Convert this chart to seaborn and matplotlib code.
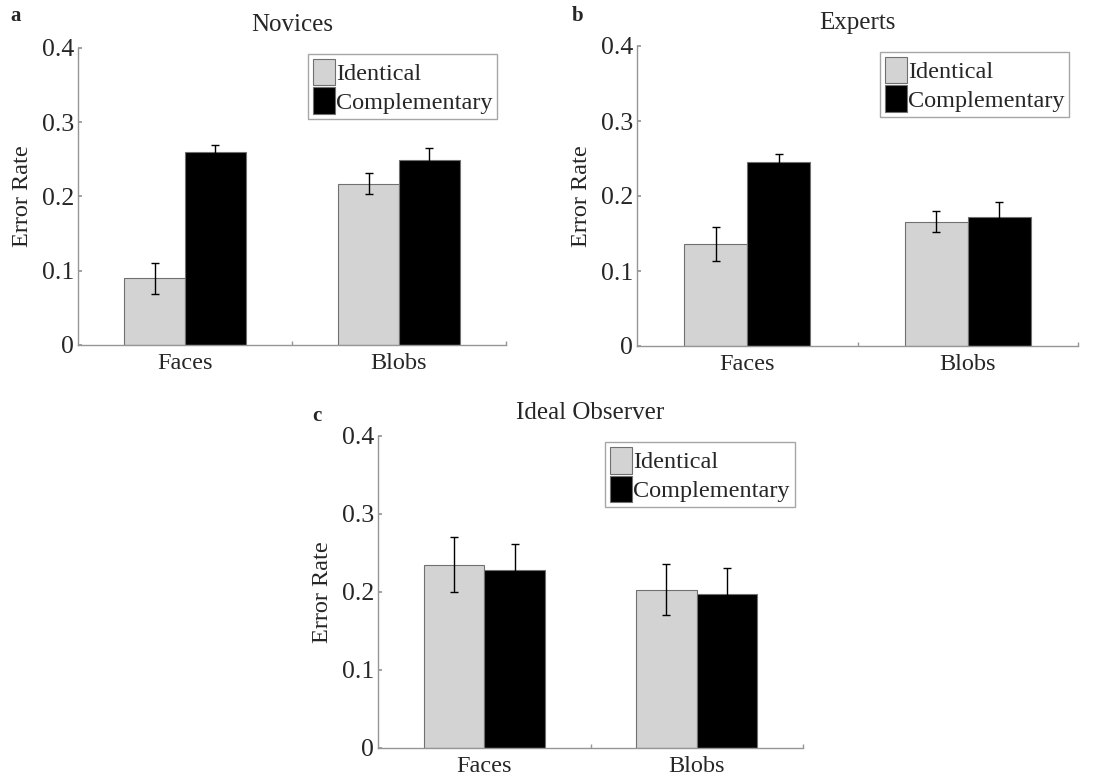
import pandas as pd
import seaborn as sns
import matplotlib.pyplot as plt

stimuli = ['Faces', 'Blobs']
conditions = ['Identical', 'Complementary']

novice_identical = [0.090, 0.217]
novice_complementary = [0.260, 0.249]
novice_identical_err = [0.021, 0.014]
novice_complementary_err = [0.009, 0.016]

expert_identical = [0.136, 0.166]
expert_complementary = [0.246, 0.172]
expert_identical_err = [0.023, 0.014]
expert_complementary_err = [0.010, 0.020]

ideal_identical = [0.235, 0.203]
ideal_complementary = [0.228, 0.198]
ideal_identical_err = [0.035, 0.033]
ideal_complementary_err = [0.034, 0.033]

panels = [
  ('a', 'Novices', novice_identical, novice_complementary, novice_identical_err, novice_complementary_err),
  ('b', 'Experts', expert_identical, expert_complementary, expert_identical_err, expert_complementary_err),
  ('c', 'Ideal Observer', ideal_identical, ideal_complementary, ideal_identical_err, ideal_complementary_err),
]

sns.set_theme(style="white")
plt.rcParams['font.family'] = ['Liberation Serif', 'DejaVu Serif']

W, H = 1106, 783
fig = plt.figure(figsize=(W/100, H/100), dpi=100)

# axes boxes in pixels: left, right, top, bottom
boxes = [(78, 506, 48, 345), (637, 1078, 46, 346), (378, 803, 436, 748)]
letter_pos = [(10, 21), (572, 21), (312, 421)]

spine_col = '#969696'
light = '#d3d3d3'

for (letter, title, ident, comp, ident_err, comp_err), (l, r, t, b), (lx, ly) in zip(panels, boxes, letter_pos):
  ax = fig.add_axes([l/W, 1 - b/H, (r-l)/W, (b-t)/H])
  df = pd.DataFrame({
    'stimulus': stimuli * 2,
    'condition': [conditions[0]]*2 + [conditions[1]]*2,
    'error': ident + comp,
  })
  sns.barplot(data=df, x='stimulus', y='error', hue='condition', order=stimuli,
              hue_order=conditions, palette=[light, 'black'], width=0.57,
              edgecolor='#707070', linewidth=0.8, errorbar=None, ax=ax)
  # error bars at bar centres
  errs = ident_err + comp_err
  for p, e in zip(ax.patches[:4], errs):
    ax.errorbar(p.get_x() + p.get_width()/2, p.get_height(), yerr=e,
                fmt='none', ecolor='black', elinewidth=1, capsize=3, capthick=1)

  ax.set_xlim(-0.5, 1.5)
  ax.set_ylim(0, 0.4)
  ax.set_yticks([0, 0.1, 0.2, 0.3, 0.4])
  ax.set_yticklabels(['0', '0.1', '0.2', '0.3', '0.4'], fontsize=18.5)
  ax.set_xticks([0, 1])
  ax.set_xticklabels(stimuli, fontsize=17.5)
  ax.set_xticks([0.5, 1.5], minor=True)
  ax.tick_params(axis='x', which='major', length=0, pad=6)
  ax.tick_params(axis='x', which='minor', direction='in', length=3, color=spine_col, bottom=True)
  ax.tick_params(axis='y', direction='in', length=3, color=spine_col, left=True, pad=3)
  ax.set_xlabel('')
  ax.set_ylabel('Error Rate', fontsize=17.5, labelpad=6)
  ax.set_title(title, fontsize=18, pad=12)
  for s in ['top', 'right']:
    ax.spines[s].set_visible(False)
  for s in ['left', 'bottom']:
    ax.spines[s].set_color(spine_col)
    ax.spines[s].set_linewidth(1)

  leg = ax.legend(loc='upper right', bbox_to_anchor=(0.98, 0.98), fontsize=17.5,
                  frameon=True, fancybox=False, handlelength=0.9, handleheight=1.3,
                  handletextpad=0.05, borderpad=0.2, labelspacing=0.08, borderaxespad=0)
  leg.get_frame().set_edgecolor('#909090')
  leg.get_frame().set_linewidth(1)

  fig.text(lx/W, 1 - ly/H, letter, fontsize=15, fontweight='bold', ha='left', va='baseline')

fig.savefig('out.png', dpi=100)
